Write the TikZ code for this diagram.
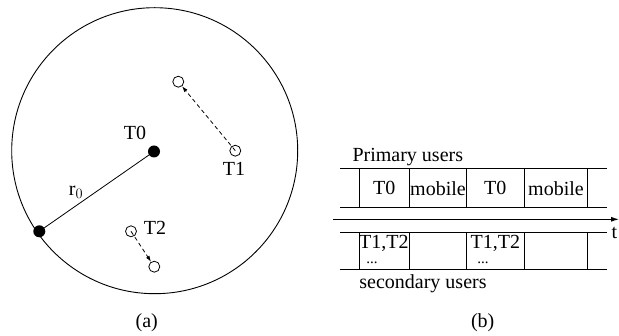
\documentclass[tikz,border=0pt]{standalone}
\usepackage{fontspec}
\setmainfont{Liberation Serif}
\usetikzlibrary{arrows.meta}
\begin{document}
\begin{tikzpicture}[x=1pt,y=-1pt,
  lbl/.style={font=\fontsize{20}{22}\selectfont, inner sep=0pt},
  dotslbl/.style={font=\fontsize{15}{16}\selectfont, inner sep=0pt, anchor=base},
  blackdot/.style={circle, fill=black, minimum size=12pt, inner sep=0pt},
  hollow/.style={circle, draw, line width=0.8pt, minimum size=11pt, inner sep=0pt},
  move/.style={dashed, line width=0.8pt, dash pattern=on 4pt off 3pt, -{Latex[length=6pt,width=4pt]}},
  rowline/.style={line width=1pt},
  cellline/.style={line width=1pt}]
\useasboundingbox (0,0) rectangle (619,336);
% (a)
\node[draw, circle, line width=0.9pt, minimum size=286pt, inner sep=0pt] (disk) at (154.7,150.7) {};
\node[blackdot] (t0) at (154,151.5) {};
\node[blackdot] (edge) at (39.3,231.3) {};
\draw[line width=0.8pt] (t0.center) -- (edge);
\node[lbl] (t0lbl) at (135,133) {T0};
\node[lbl] (r0lbl) at (76,192) {r$_0$};
\node[hollow] (t1) at (235.3,150.7) {};
\node[hollow] (t1new) at (178.3,81.7) {};
\node[lbl] (t1lbl) at (234,168.5) {T1};
\draw[move] (t1.center) -- (t1new);
\node[hollow] (t2) at (131,231.3) {};
\node[hollow] (t2new) at (154.3,266.7) {};
\node[lbl] (t2lbl) at (155,228) {T2};
\draw[move] (t2.center) -- (t2new);
\node[lbl] (capa) at (146.7,323) {(a)};
% (b)
\node[lbl] (prim) at (407.8,156.7) {Primary users};
\draw[rowline] (340,168.3) coordinate (pa) -- (606.7,168.3) coordinate (pb);
\draw[rowline] (340,207.3) coordinate (pc) -- (606.7,207.3) coordinate (pd);
\foreach \x in {359,409.3,466.7,524,587.7} {
  \draw[cellline] (\x,168.3) -- (\x,207.3);
  \draw[cellline] (\x,232.3) -- (\x,270);
}
\node[lbl] (c1) at (384.2,188.3) {T0};
\node[lbl] (c2) at (438,188.3) {mobile};
\node[lbl] (c3) at (495.3,188.3) {T0};
\node[lbl] (c4) at (556,188.3) {mobile};
\coordinate (axs) at (333.3,219.3);
\coordinate (axe) at (619,219.3);
\draw[line width=1pt, -{Latex[length=8pt,width=5pt]}] (axs) -- (axe);
\node[lbl] (tlbl) at (614.5,233) {t};
\draw[rowline] (340,232.3) -- (606.7,232.3);
\draw[rowline] (340,270) -- (606.7,270);
\node[lbl] (d1) at (383.8,243.5) {T1,T2};
\node[dotslbl] (d1d) at (372,264) {...};
\node[lbl] (d2) at (495.3,243.5) {T1,T2};
\node[dotslbl] (d2d) at (483,264) {...};
\node[lbl] (sec) at (423,283.3) {secondary users};
\node[lbl] (capb) at (482.7,323) {(b)};
\end{tikzpicture}
\end{document}
